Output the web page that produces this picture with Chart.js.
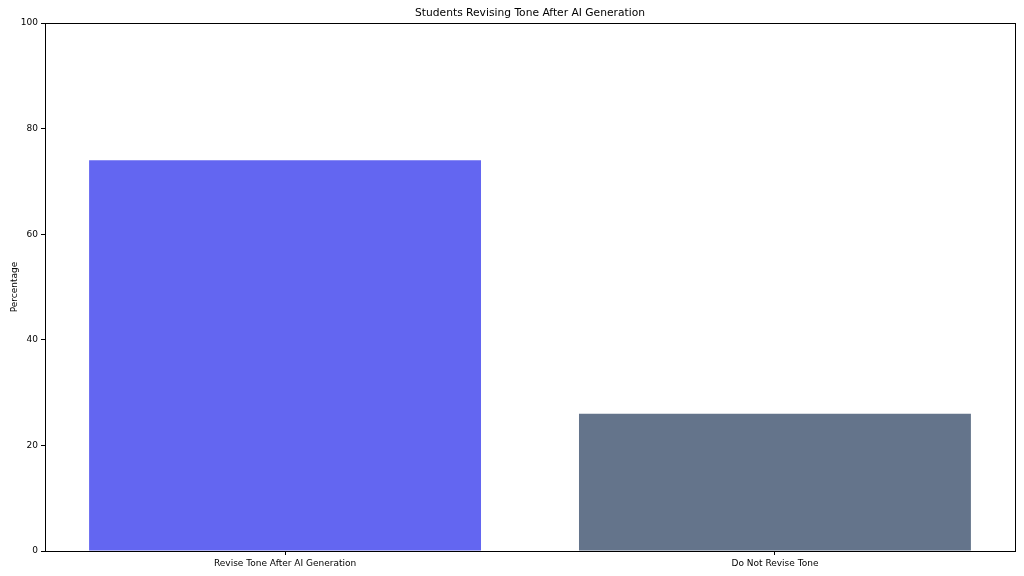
<!DOCTYPE html>
<html>
<head>
<meta charset="utf-8">
<script src="https://cdn.jsdelivr.net/npm/chart.js@4"></script>
<style>
html,body{margin:0;padding:0;background:#fff;}
#wrap{width:1024px;height:576px;}
</style>
</head>
<body>
<div id="wrap"><canvas id="c" width="1024" height="576"></canvas></div>
<script>
const categories = ["Revise Tone After AI Generation", "Do Not Revise Tone"];
const values = [74, 26];
const barColors = ["#6366f1", "#64748b"];
const yTicks = [0, 20, 40, 60, 80, 100];
const chartTitle = "Students Revising Tone After AI Generation";
const yLabel = "Percentage";

const frame = {
  id: 'frame',
  afterDraw(chart) {
    const a = chart.chartArea, ctx = chart.ctx;
    ctx.save();
    ctx.strokeStyle = '#000';
    ctx.lineWidth = 1;
    ctx.strokeRect(Math.round(a.left) + 0.5, Math.round(a.top) + 0.5, Math.round(a.right - a.left), Math.round(a.bottom - a.top));
    ctx.fillStyle = '#000';
    ctx.font = "10.7px 'DejaVu Sans', sans-serif";
    ctx.textAlign = 'center';
    ctx.textBaseline = 'middle';
    ctx.fillText(chartTitle, (a.left + a.right) / 2, 13.5);
    ctx.restore();
  }
};

Chart.defaults.font.family = "'DejaVu Sans', sans-serif";
Chart.defaults.color = '#000';

new Chart(document.getElementById('c'), {
  type: 'bar',
  data: {
    datasets: [{
      data: values.map((v, i) => ({ x: i, y: v })),
      backgroundColor: barColors,
      borderWidth: 0,
      barPercentage: 0.8,
      categoryPercentage: 1.0
    }]
  },
  options: {
    responsive: false,
    animation: false,
    parsing: false,
    layout: { padding: { left: 0, right: 9, top: 23, bottom: 0 } },
    plugins: {
      legend: { display: false },
      tooltip: { enabled: false },
      title: { display: false }
    },
    scales: {
      x: {
        type: 'linear',
        offset: false,
        min: -0.49, max: 1.49,
        afterBuildTicks(s) { s.ticks = categories.map((c, i) => ({ value: i })); },
        grid: { display: true, offset: false, drawOnChartArea: false, drawTicks: true, tickLength: 4, color: '#000' },
        border: { display: true, color: '#000' },
        ticks: { font: { size: 9 }, color: '#000', padding: 3, maxRotation: 0, autoSkip: false,
          callback: (v) => categories[v] },
        afterFit(s) { s.height = 25; }
      },
      y: {
        min: 0, max: 100,
        afterBuildTicks(s) { s.ticks = yTicks.map(v => ({ value: v })); },
        grid: { display: true, drawOnChartArea: false, drawTicks: true, tickLength: 4, color: '#000' },
        border: { display: true, color: '#000' },
        ticks: { font: { size: 9 }, color: '#000', padding: 3 },
        title: { display: true, text: yLabel, font: { size: 9 }, color: '#000', padding: { top: 9, bottom: 0 } },
        afterFit(s) { s.width = 45; }
      }
    }
  },
  plugins: [frame]
});
</script>
</body>
</html>
